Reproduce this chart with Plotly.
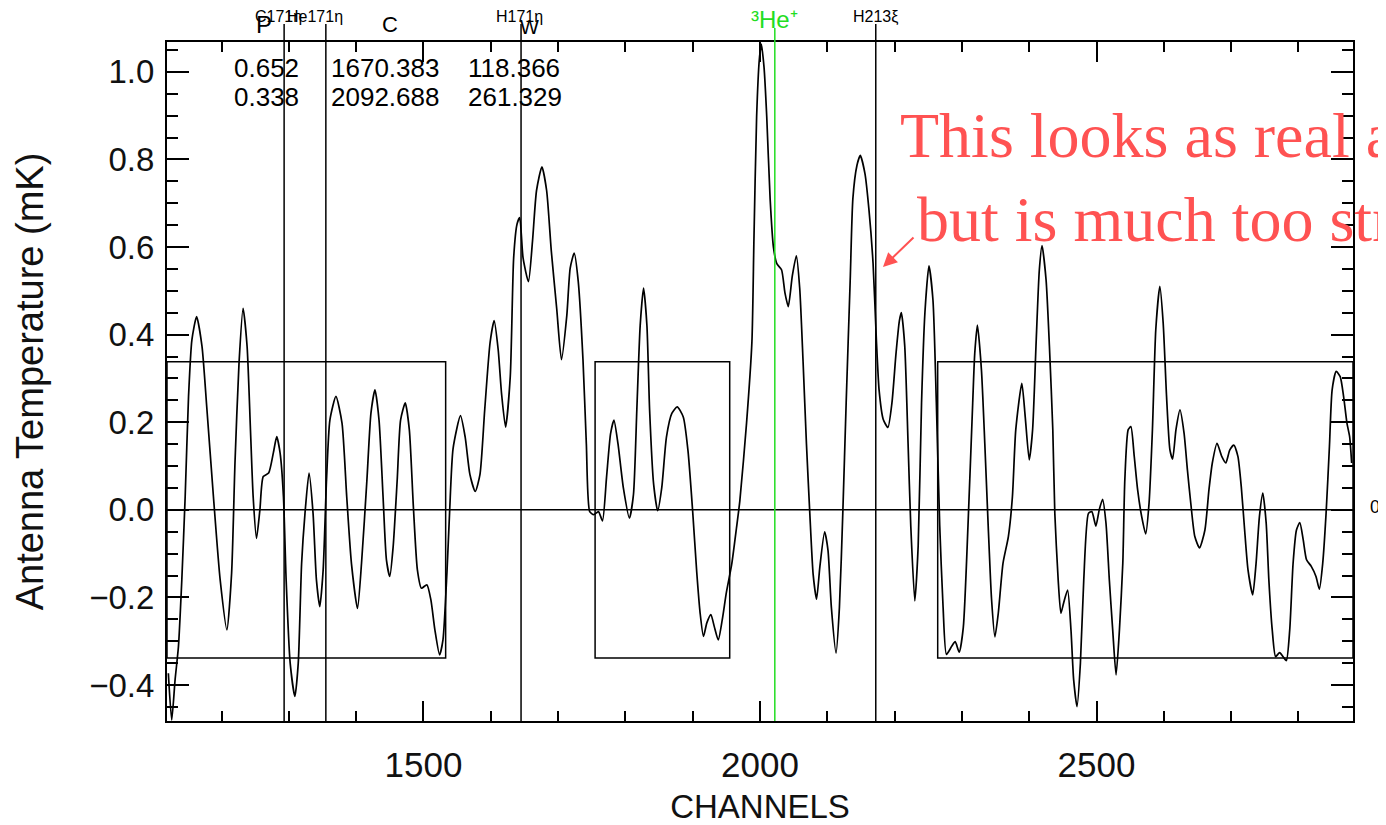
import plotly.graph_objects as go

# ---- data ----
channels = [1121,1126,1131,1136,1141,1146,1151,1156,1163,1171,1178,1188,1198,1208,1215,1220,1226,1232,1238,1243,
            1247,1252,1257,1262,1270,1277,1282,1287,1292,1296,1302,1309,1314,1319,1324,1330,1336,1341,1346,1351,
            1356,1361,1370,1379,1386,1393,1402,1408,1416,1422,1428,1434,1440,1445,1450,1455,1461,1466,1473,1479,
            1485,1491,1497,1505,1511,1517,1524,1529,1535,1539,1544,1555,1562,1569,1577,1584,1591,1599,1605,1611,
            1616,1622,1629,1634,1639,1643,1648,1656,1662,1668,1676,1683,1690,1698,1705,1713,1718,1724,1730,1737,
            1742,1747,1753,1760,1766,1772,1778,1783,1789,1797,1806,1812,1817,1822,1827,1832,1836,1842,1848,1854,
            1861,1869,1877,1886,1893,1900,1906,1911,1916,1921,1927,1932,1938,1944,1950,1958,1965,1970,1980,1988,
            1991,1995,1999,2002,2006,2010,2015,2020,2025,2032,2037,2042,2048,2054,2059,2064,2069,2074,2079,2084,
            2089,2096,2101,2106,2113,2118,2123,2128,2134,2138,2144,2149,2156,2162,2168,2173,2177,2183,2190,2196,
            2202,2207,2210,2215,2220,2224,2230,2235,2240,2245,2251,2257,2262,2267,2272,2277,2285,2290,2296,2302,
            2309,2316,2319,2323,2329,2334,2339,2344,2349,2354,2361,2369,2375,2380,2389,2394,2400,2405,2410,2415,
            2419,2425,2430,2435,2438,2443,2447,2451,2457,2462,2466,2471,2476,2481,2488,2493,2499,2504,2509,2514,
            2519,2524,2529,2534,2539,2542,2547,2551,2556,2561,2567,2573,2578,2583,2588,2594,2599,2604,2609,2613,
            2618,2624,2630,2635,2640,2646,2653,2661,2667,2672,2679,2686,2692,2698,2704,2710,2715,2720,2725,2732,
            2737,2742,2747,2752,2756,2761,2766,2772,2777,2782,2787,2792,2797,2802,2807,2812,2819,2826,2831,2836,
            2841,2846,2850,2856,2862,2867,2872,2876,2879]
temperature = [-0.373,-0.48,-0.388,-0.312,-0.16,0.03,0.259,0.388,0.441,0.373,0.236,0.03,-0.16,-0.274,-0.144,0.107,0.335,0.46,0.373,0.183,
               0.03,-0.065,0.0,0.076,0.084,0.13,0.167,0.13,0.03,-0.16,-0.35,-0.426,-0.35,-0.122,-0.008,0.084,-0.008,-0.16,-0.221,-0.137,
               0.068,0.205,0.259,0.198,0.03,-0.122,-0.225,-0.122,0.068,0.221,0.274,0.205,0.03,-0.114,-0.152,-0.084,0.068,0.205,0.244,0.183,
               0.008,-0.137,-0.179,-0.171,-0.205,-0.274,-0.331,-0.297,-0.14,0.0,0.14,0.215,0.166,0.081,0.042,0.081,0.228,0.382,0.432,0.366,
               0.266,0.189,0.305,0.575,0.652,0.667,0.575,0.521,0.613,0.729,0.783,0.729,0.59,0.459,0.343,0.444,0.552,0.586,0.521,0.343,
               0.151,-0.004,-0.011,-0.004,-0.025,0.074,0.174,0.205,0.151,0.05,-0.019,0.035,0.228,0.421,0.506,0.421,0.228,0.058,-0.002,0.05,
               0.166,0.22,0.235,0.212,0.135,-0.004,-0.142,-0.235,-0.289,-0.258,-0.239,-0.266,-0.297,-0.25,-0.189,-0.124,-0.042,0.02,0.198,0.384,
               0.618,0.898,1.028,1.063,1.01,0.898,0.711,0.599,0.562,0.548,0.496,0.464,0.534,0.58,0.506,0.338,0.151,-0.008,-0.148,-0.204,
               -0.129,-0.05,-0.092,-0.222,-0.327,-0.222,-0.008,0.244,0.524,0.711,0.786,0.809,0.767,0.683,0.562,0.384,0.272,0.207,0.188,0.244,
               0.356,0.431,0.45,0.375,0.151,-0.036,-0.208,-0.082,0.244,0.45,0.557,0.478,0.244,-0.036,-0.222,-0.33,-0.311,-0.301,-0.325,-0.269,
               -0.036,0.244,0.356,0.422,0.319,0.151,-0.036,-0.204,-0.29,-0.236,-0.122,-0.061,0.03,0.183,0.289,0.213,0.114,0.183,0.373,0.548,
               0.603,0.525,0.373,0.183,-0.008,-0.16,-0.236,-0.213,-0.183,-0.274,-0.388,-0.449,-0.35,-0.16,-0.008,-0.004,-0.037,0.0,0.024,-0.03,
               -0.16,-0.274,-0.377,-0.274,-0.122,0.068,0.183,0.19,0.122,0.046,-0.015,-0.055,0.015,0.183,0.411,0.51,0.426,0.259,0.137,0.116,
               0.183,0.228,0.175,0.091,0.015,-0.061,-0.087,-0.046,0.046,0.107,0.152,0.122,0.107,0.137,0.148,0.122,0.053,-0.046,-0.137,-0.194,
               -0.122,-0.015,0.038,-0.03,-0.16,-0.274,-0.335,-0.326,-0.335,-0.344,-0.274,-0.122,-0.046,-0.029,-0.068,-0.114,-0.129,-0.152,-0.181,-0.122,
               -0.008,0.145,0.274,0.316,0.304,0.259,0.198,0.167,0.107]

x_range = [1119, 2881]
y_range = [-0.482, 1.068]

line_channels = [1293, 1355, 1645, 2172]
line_labels = ["C171\u03b7", "He171\u03b7", "H171\u03b7", "H213\u03be"]
label_channels = [1285, 1339, 1643, 2172]
he3_channel = 2022
he3_label = "\u00b3He\u207a"

box_level = 0.338
box_starts = [1119, 1755, 2264]
box_ends = [1533, 1955, 2881]

fit_rows = [["0.652", "1670.383", "118.366"], ["0.338", "2092.688", "261.329"]]
fit_cols_ch = [1216, 1360, 1563]

extra_labels = ["P", "C", "W"]
extra_label_ch = [1263, 1450, 1657]

# ---- figure ----
PAGE = 8                      # default page margin of the html body
L, T, W, H = 167, 42, 1186, 679   # plot area as seen on screen
FW, FH = 1386 - PAGE, 825 - PAGE
def px(X):
    return (X - L) / W
def py(Y):
    return (T + H - Y) / H

fig = go.Figure()
fig.add_trace(go.Scatter(x=channels, y=temperature, mode="lines",
                         line=dict(color="black", width=1.7, shape="spline", smoothing=0.6),
                         showlegend=False, hoverinfo="skip"))

shapes = []
shapes.append(dict(type="line", xref="paper", yref="y", x0=0, x1=1, y0=0, y1=0,
                   line=dict(color="black", width=1.5)))
for s, e in zip(box_starts, box_ends):
    shapes.append(dict(type="rect", xref="x", yref="y", x0=s, x1=e, y0=-box_level, y1=box_level,
                       line=dict(color="black", width=1.5)))
for c in line_channels:
    shapes.append(dict(type="line", xref="x", yref="paper", x0=c, x1=c, y0=0, y1=py(24),
                       line=dict(color="black", width=1.5)))
shapes.append(dict(type="line", xref="x", yref="paper", x0=he3_channel, x1=he3_channel, y0=0, y1=py(28),
                   line=dict(color="#22dd22", width=1.5)))

ann = []
axfont = "Liberation Sans, Arial, sans-serif"
for c, t in zip(label_channels, line_labels):
    ann.append(dict(x=c, y=py(17), xref="x", yref="paper", text=t, showarrow=False,
                    font=dict(family=axfont, size=16, color="black"), xanchor="center", yanchor="middle"))
for c, t, yy, fs in zip(extra_label_ch, extra_labels, [24, 24, 27], [24, 22, 20]):
    ann.append(dict(x=c, y=py(yy), xref="x", yref="paper", text=t, showarrow=False,
                    font=dict(family=axfont, size=fs, color="black"), xanchor="center", yanchor="middle"))
ann.append(dict(x=he3_channel, y=py(20), xref="x", yref="paper", text=he3_label, showarrow=False,
                font=dict(family=axfont, size=24, color="#22dd22"), xanchor="center", yanchor="middle"))
for r, row in enumerate(fit_rows):
    for c, t in zip(fit_cols_ch, row):
        ann.append(dict(x=c, y=py(68 + 29 * r), xref="x", yref="paper", text=t, showarrow=False,
                        font=dict(family=axfont, size=26, color="black"), xanchor="left", yanchor="middle"))
ann.append(dict(x=px(1368), y=py(507), xref="paper", yref="paper", text="0.", showarrow=False,
                font=dict(family=axfont, size=18, color="black"), xanchor="left", yanchor="middle"))
red = "#ff5252"
serif = "Liberation Serif, Times New Roman, serif"
ann.append(dict(x=px(898), y=py(136), xref="paper", yref="paper", text="This looks as real as \u00b3He\u207a",
                showarrow=False, font=dict(family=serif, size=64, color=red), xanchor="left", yanchor="middle"))
ann.append(dict(x=px(915), y=py(220), xref="paper", yref="paper", text="but is much too strong",
                showarrow=False, font=dict(family=serif, size=64, color=red), xanchor="left", yanchor="middle"))
ann.append(dict(x=px(883), y=py(267), xref="paper", yref="paper", text="", showarrow=True,
                ax=32, ay=-31, arrowcolor=red, arrowwidth=2, arrowhead=2, arrowsize=1.4))

fig.update_layout(
    width=FW, height=FH,
    margin=dict(l=L - PAGE, r=FW - (L - PAGE) - W, t=T - PAGE, b=FH - (T - PAGE) - H, autoexpand=False),
    paper_bgcolor="white", plot_bgcolor="white",
    shapes=shapes, annotations=ann, showlegend=False,
    font=dict(family=axfont, color="black"),
)
fig.update_xaxes(range=x_range, showgrid=False, zeroline=False, showline=True, linecolor="black", linewidth=2,
                 mirror="ticks", ticks="inside", ticklen=20, tickwidth=1.5, tickcolor="black",
                 tick0=0, dtick=500, ticklabelstandoff=12, automargin=False,
                 minor=dict(ticks="inside", ticklen=10, dtick=100, tickwidth=1.5, tickcolor="black", showgrid=False),
                 tickfont=dict(family=axfont, size=35, color="#111"),
                 title=dict(text="CHANNELS", font=dict(family=axfont, size=33, color="#111"), standoff=30))
fig.update_yaxes(range=y_range, showgrid=False, zeroline=False, showline=True, linecolor="black", linewidth=2,
                 mirror="ticks", ticks="inside", ticklen=22, tickwidth=1.5, tickcolor="black",
                 tick0=0, dtick=0.2, tickformat=".1f", ticklabelstandoff=4, automargin=False,
                 minor=dict(ticks="inside", ticklen=11, dtick=0.05, tickwidth=1.5, tickcolor="black", showgrid=False),
                 tickfont=dict(family=axfont, size=33, color="#111"),
                 title=dict(text="Antenna Temperature (mK)", font=dict(family=axfont, size=38, color="#111"), standoff=34))

fig.write_html("out.html")
